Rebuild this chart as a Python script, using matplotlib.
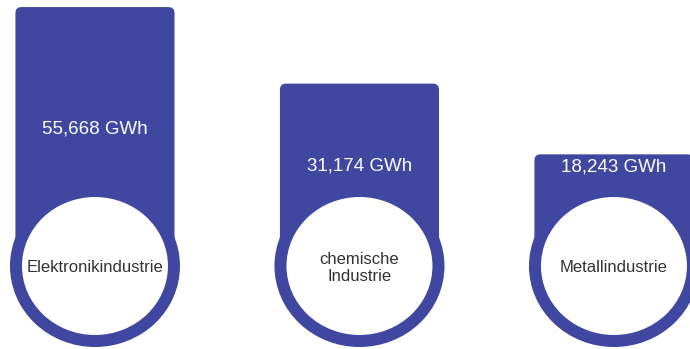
import matplotlib
matplotlib.use("Agg")
import matplotlib.pyplot as plt
from matplotlib.patches import FancyBboxPatch, Ellipse
from matplotlib.transforms import IdentityTransform

# ---- data ----
categories = ["Elektronikindustrie", "chemische\nIndustrie", "Metallindustrie"]
values = [55668, 31174, 18243]
value_labels = ["55,668 GWh", "31,174 GWh", "18,243 GWh"]

# ---- style / layout ----
BAR_COLOR = "#3f47a1"
TEXT_COLOR = "#333333"
W, H, DPI = 690, 349, 100
bar_width = 0.613                 # in category units
x_nudge_px = [0, 5, 0]            # small horizontal layout nudges
label_offsets_px = [122, 82, 13]  # value label distance below bar top
circle_center_y_px = 266          # from top
label_center_y_px = 268
circle_w, circle_h = 170, 162     # outer size in px
ring_px = 12

plt.rcParams["font.family"] = ["Liberation Sans", "DejaVu Sans"]

fig = plt.figure(figsize=(W / DPI, H / DPI), dpi=DPI)
fig.patch.set_facecolor("white")
ax = fig.add_axes([0, 0, 1, 1])
ax.set_yscale("log")
ax.set_ylim(4176, 58730)
ax.set_xlim(-0.366, 2.293)
ax.axis("off")

fig.canvas.draw()
ident = IdentityTransform()
base_disp = H - circle_center_y_px
pt_per_px = 72.0 / DPI

for i, (cat, v, lab) in enumerate(zip(categories, values, value_labels)):
    dx = x_nudge_px[i]
    x0, ytop = ax.transData.transform((i - bar_width / 2, v))
    x1, _ = ax.transData.transform((i + bar_width / 2, v))
    cx, _ = ax.transData.transform((i, v))
    x0, x1, cx = x0 + dx, x1 + dx, cx + dx
    bar = FancyBboxPatch((x0, base_disp), x1 - x0, ytop - base_disp,
                         boxstyle="round,pad=0,rounding_size=6",
                         facecolor=BAR_COLOR, edgecolor="none",
                         transform=ident, zorder=2)
    fig.add_artist(bar)
    ell = Ellipse((cx, base_disp), circle_w - ring_px, circle_h - ring_px,
                  facecolor="white", edgecolor=BAR_COLOR,
                  linewidth=ring_px * pt_per_px, transform=ident, zorder=3)
    fig.add_artist(ell)
    # value label
    fig.text(cx / W, (ytop - label_offsets_px[i]) / H, lab, color="white",
             fontsize=13.5, ha="center", va="center", zorder=4)
    # category label
    fig.text(cx / W, (H - label_center_y_px) / H, cat, color=TEXT_COLOR,
             fontsize=12, ha="center", va="center", zorder=4,
             linespacing=1.2)

fig.savefig("out.png", dpi=DPI, facecolor="white")
